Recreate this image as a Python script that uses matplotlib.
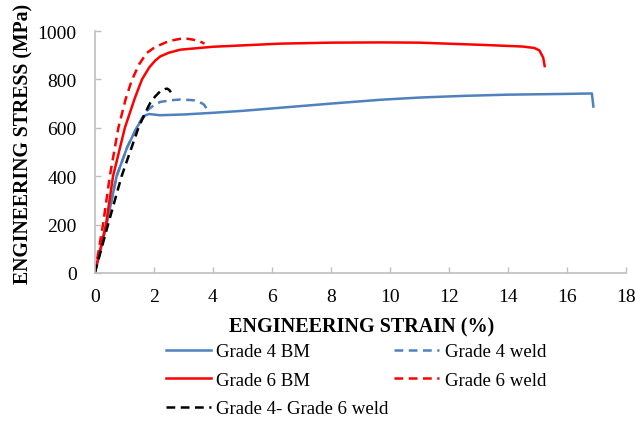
import matplotlib
matplotlib.use("Agg")
import matplotlib.pyplot as plt

plt.rcParams["font.family"] = ["Liberation Serif", "DejaVu Serif"]

# Grade 4 base metal
g4_bm_strain = [0, 0.2, 0.4, 0.74, 1.1, 1.42, 1.6, 1.72, 1.85, 2.2, 3, 4, 5, 6.3, 8, 9.7, 11, 12.5, 14, 15.9, 16.85, 16.9]
g4_bm_stress = [0, 95, 200, 400, 520, 600, 635, 652, 657, 652, 655, 662, 670, 683, 700, 716, 725, 732, 737, 740, 742, 688]

# Grade 4 weld
g4_weld_strain = [0, 0.4, 0.74, 1.1, 1.42, 1.6, 1.76, 2.0, 2.22, 2.6, 2.9, 3.35, 3.55, 3.7, 3.8]
g4_weld_stress = [0, 200, 400, 520, 600, 640, 670, 693, 707, 714, 717, 714, 707, 696, 678]

# Grade 6 base metal
g6_bm_strain = [0, 0.38, 0.62, 1.02, 1.35, 1.6, 1.85, 2.05, 2.22, 2.5, 2.9, 4, 6.3, 8, 9.7, 11, 13.1, 14.5, 14.9, 15.07, 15.2, 15.25]
g6_bm_stress = [0, 200, 400, 600, 720, 800, 850, 878, 895, 910, 923, 935, 948, 952, 953, 952, 943, 936, 930, 920, 890, 855]

# Grade 6 weld
g6_weld_strain = [0, 0.28, 0.51, 0.8, 1.05, 1.25, 1.5, 1.76, 2.0, 2.22, 2.5, 2.9, 3.15, 3.35, 3.55, 3.72]
g6_weld_stress = [0, 200, 400, 600, 720, 795, 862, 909, 930, 943, 958, 968, 968, 964, 958, 948]

# dissimilar weld
g46_weld_strain = [0, 0.45, 0.91, 1.48, 1.7, 1.88, 2.05, 2.22, 2.38, 2.45, 2.52, 2.58]
g46_weld_stress = [0, 200, 400, 600, 660, 703, 730, 751, 760, 762, 757, 747]

BLUE = "#4F81BD"
RED = "#FF0000"
DASH = (0, (3.5, 2.2))

fig = plt.figure(figsize=(6.36, 4.39), dpi=100)
ax = fig.add_axes([0.149, 0.376, 0.835, 0.551])

lw = 1.8
h1, = ax.plot(g4_bm_strain, g4_bm_stress, color=BLUE, lw=lw, label="Grade 4 BM")
h2, = ax.plot(g4_weld_strain, g4_weld_stress, color=BLUE, lw=lw, ls=DASH, label="Grade 4 weld")
h3, = ax.plot(g6_bm_strain, g6_bm_stress, color=RED, lw=lw, label="Grade 6 BM")
h4, = ax.plot(g6_weld_strain, g6_weld_stress, color=RED, lw=lw, ls=DASH, label="Grade 6 weld")
h5, = ax.plot(g46_weld_strain, g46_weld_stress, color="black", lw=lw, ls=DASH, label="Grade 4- Grade 6 weld")

ax.set_xlim(0, 18)
ax.set_ylim(0, 1000)
ax.set_xticks(range(0, 19, 2))
ax.set_yticks(range(0, 1001, 200))
for side in ("top", "right"):
    ax.spines[side].set_visible(False)
for side in ("left", "bottom"):
    ax.spines[side].set_color("#BFBFBF")
    ax.spines[side].set_linewidth(1.2)
ax.tick_params(direction="in", length=4, width=1, color="#BFBFBF", labelsize=14)
ax.tick_params(axis="y", pad=13)
ax.tick_params(axis="x", pad=11)

ax.set_xlabel("ENGINEERING STRAIN (%)", fontsize=14.5, fontweight="bold", va="center")
ax.xaxis.set_label_coords(0.503, -0.223)
ax.set_ylabel("ENGINEERING STRESS (MPa)", fontsize=14.2, fontweight="bold", va="center")
ax.yaxis.set_label_coords(-0.135, 0.539)

fig.legend(
    [h1, h3, h5, h2, h4],
    ["Grade 4 BM", "Grade 6 BM", "Grade 4- Grade 6 weld", "Grade 4 weld", "Grade 6 weld"],
    ncol=2, loc="upper center", bbox_to_anchor=(0.56, 0.255), frameon=False,
    fontsize=13.6, handlelength=2.35, handletextpad=0.3, columnspacing=0.3,
    labelspacing=0.6,
)

fig.savefig("out.png", dpi=100)
